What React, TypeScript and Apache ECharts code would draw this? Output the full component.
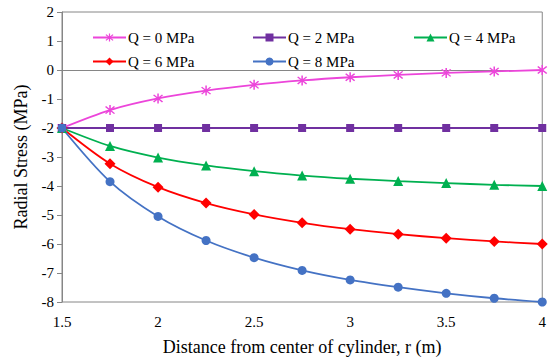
import React, { useEffect, useRef } from "react";
import * as echarts from "echarts";

const radius = [1.5, 1.75, 2, 2.25, 2.5, 2.75, 3, 3.25, 3.5, 3.75, 4];
const q0 = [-2, -1.38, -0.98, -0.71, -0.51, -0.36, -0.25, -0.17, -0.1, -0.05, 0];
const q2 = [-2, -2, -2, -2, -2, -2, -2, -2, -2, -2, -2];
const q4 = [-2, -2.62, -3.02, -3.29, -3.49, -3.64, -3.75, -3.83, -3.9, -3.96, -4];
const q6 = [-2, -3.23, -4.04, -4.59, -4.98, -5.27, -5.49, -5.66, -5.8, -5.91, -6];
const q8 = [-2, -3.85, -5.05, -5.88, -6.47, -6.91, -7.24, -7.49, -7.7, -7.87, -8];
const seriesNames = ["Q = 0 MPa", "Q = 2 MPa", "Q = 4 MPa", "Q = 6 MPa", "Q = 8 MPa"];
const xTitle = "Distance from center of cylinder, r (m)";
const yTitle = "Radial Stress (MPa)";

const FONT = "Liberation Serif";
const STAR =
  "path://M4.4,0 L5.6,0 L5.6,10 L4.4,10 Z M1.04,1.88 L1.88,1.04 L8.96,8.12 L8.12,8.96 Z M1.04,8.12 L8.12,1.04 L8.96,1.88 L1.88,8.96 Z";

export default function App() {
  const ref = useRef<HTMLDivElement>(null);
  useEffect(() => {
    if (!ref.current) return;
    const chart = echarts.init(ref.current, undefined, { renderer: "svg" });
    const styles = [
      { color: "#EC45DA", symbol: STAR, size: 10 },
      { color: "#7030A0", symbol: "rect", size: 8 },
      { color: "#00B050", symbol: "triangle", size: 10 },
      { color: "#FF0000", symbol: "diamond", size: 11 },
      { color: "#4472C4", symbol: "circle", size: 9 },
    ];
    const datas = [q0, q2, q4, q6, q8];
    const legendPos = [
      { left: 92, top: 30 },
      { left: 252, top: 30 },
      { left: 413, top: 30 },
      { left: 92, top: 54 },
      { left: 252, top: 54 },
    ];
    chart.setOption({
      animation: false,
      backgroundColor: "#fff",
      textStyle: { fontFamily: FONT },
      grid: {
        left: 62,
        right: 3,
        top: 12,
        bottom: 61,
        show: true,
        borderColor: "#868686",
        borderWidth: 1,
      },
      legend: legendPos.map((p, i) => ({
        data: [seriesNames[i]],
        left: p.left,
        top: p.top,
        itemWidth: 33,
        itemHeight: 10,
        itemGap: 2,
        textStyle: { fontFamily: FONT, fontSize: 15, color: "#000", padding: [0, 0, 0, -3] },
        padding: 0,
      })),
      xAxis: {
        type: "value",
        min: 1.5,
        max: 4,
        interval: 0.5,
        name: xTitle,
        nameLocation: "middle",
        nameGap: 36,
        nameTextStyle: { fontFamily: FONT, fontSize: 18, color: "#000" },
        axisLine: { show: true, lineStyle: { color: "#868686", width: 1 } },
        axisTick: { show: false },
        splitLine: { show: false },
        axisLabel: { fontFamily: FONT, fontSize: 15, color: "#000", margin: 12 },
      },
      yAxis: {
        type: "value",
        min: -8,
        max: 2,
        interval: 1,
        name: yTitle,
        nameLocation: "middle",
        nameGap: 32,
        nameTextStyle: { fontFamily: FONT, fontSize: 18, color: "#000" },
        axisLine: { show: true, lineStyle: { color: "#868686", width: 1 } },
        axisTick: { show: true, inside: false, length: 5, lineStyle: { color: "#868686" } },
        splitLine: { show: false },
        axisLabel: { fontFamily: FONT, fontSize: 15, color: "#000", margin: 8 },
      },
      series: datas.map((d, i) => ({
        name: seriesNames[i],
        type: "line",
        data: d.map((v, j) => [radius[j], v]),
        smooth: 0.3,
        symbol: styles[i].symbol,
        symbolSize: styles[i].size,
        showAllSymbol: true,
        itemStyle: { color: styles[i].color },
        lineStyle: { color: styles[i].color, width: 1.8 },
        clip: false,
      })),
    });
    return () => chart.dispose();
  }, []);
  return (
    <div
      ref={ref}
      style={{ position: "absolute", left: 0, top: 0, width: 549, height: 363 }}
    />
  );
}
